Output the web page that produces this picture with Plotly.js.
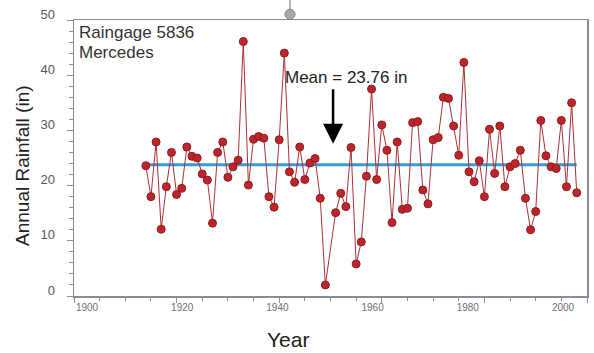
<!DOCTYPE html>
<html>
<head>
<meta charset="utf-8">
<script src="https://cdn.plot.ly/plotly-3.0.1.min.js"></script>
<style>
  html, body { margin: 0; padding: 0; background: #ffffff; }
  #chart { width: 594px; height: 353px; }
</style>
</head>
<body>
<div id="chart"></div>
<script>
// Annual rainfall at raingage 5836 (Mercedes); 1950 has no record.
const years = [
  1914, 1915, 1916, 1917, 1918, 1919, 1920, 1921, 1922, 1923,
  1924, 1925, 1926, 1927, 1928, 1929, 1930, 1931, 1932, 1933,
  1934, 1935, 1936, 1937, 1938, 1939, 1940, 1941, 1942, 1943,
  1944, 1945, 1946, 1947, 1948, 1949, 1951, 1952, 1953, 1954,
  1955, 1956, 1957, 1958, 1959, 1960, 1961, 1962, 1963, 1964,
  1965, 1966, 1967, 1968, 1969, 1970, 1971, 1972, 1973, 1974,
  1975, 1976, 1977, 1978, 1979, 1980, 1981, 1982, 1983, 1984,
  1985, 1986, 1987, 1988, 1989, 1990, 1991, 1992, 1993, 1994,
  1995, 1996, 1997, 1998
];
const rainfallIn = [
  23.6, 18.0, 27.9, 12.1, 19.8, 26.0, 18.4, 19.5, 27.0, 25.3,
  25.0, 22.1, 21.0, 13.2, 26.0, 27.9, 21.5, 23.4, 24.6, 46.1,
  20.1, 28.4, 28.9, 28.6, 18.0, 16.1, 28.3, 44.0, 22.5, 20.6,
  27.0, 21.1, 24.1, 24.9, 17.7, 2.0, 15.1, 18.6, 16.2, 26.9,
  5.8, 9.8, 21.7, 37.5, 21.1, 31.0, 26.4, 13.3, 27.9, 15.7,
  15.9, 31.4, 31.6, 19.2, 16.7, 28.3, 28.7, 36.0, 35.8, 30.8,
  25.5, 42.3, 22.5, 20.7, 24.5, 18.0, 30.2, 22.2, 30.8, 19.8,
  23.4, 24.0, 26.4, 17.7, 12.0, 15.3, 31.8, 25.4, 23.4, 23.1,
  31.8, 19.8, 35.0, 18.7
];
const meanRainfall = 23.76;
const stationName = 'Raingage 5836';
const stationPlace = 'Mercedes';
const meanLabel = 'Mean = ' + meanRainfall.toFixed(2) + ' in';
const xTitle = 'Year';
const yTitle = 'Annual Rainfall (in)';
const yTicks = [0, 10, 20, 30, 40, 50];
const xTicks = [1900, 1920, 1940, 1960, 1980, 2000];

const axisColor = '#8a8a98';
const fontFamily = 'Arial, "Liberation Sans", sans-serif';

const meanTrace = {
  x: [years[0], years[years.length - 1]],
  y: [meanRainfall, meanRainfall],
  mode: 'lines',
  line: { color: '#3a98d6', width: 3 },
  hoverinfo: 'skip',
  showlegend: false
};

const rainTrace = {
  x: years,
  y: rainfallIn,
  mode: 'lines+markers',
  line: { color: '#a83236', width: 1 },
  marker: { size: 8, color: '#bd252b', line: { color: '#8c1c20', width: 1 } },
  showlegend: false
};

// empty trace that binds the year-label axis so it gets drawn
const labelAxisTrace = {
  x: [], y: [],
  xaxis: 'x2', yaxis: 'y',
  mode: 'markers',
  hoverinfo: 'skip',
  showlegend: false
};

const layout = {
  width: 594,
  height: 353,
  margin: { l: 74, r: 7, t: 20, b: 57 },
  paper_bgcolor: '#ffffff',
  plot_bgcolor: '#ffffff',
  font: { family: fontFamily, color: '#333333' },
  xaxis: {
    range: [1900, 2000],
    tickvals: xTicks,
    showticklabels: false,
    ticks: 'outside',
    ticklen: 5,
    tickwidth: 1,
    tickcolor: axisColor,
    minor: { dtick: 5, ticks: 'outside', ticklen: 3, tickcolor: axisColor },
    showgrid: false,
    zeroline: false,
    showline: true,
    linecolor: axisColor,
    linewidth: 1.5,
    mirror: true
  },
  // year labels sit on their own slightly compressed scale
  xaxis2: {
    overlaying: 'x',
    anchor: 'y',
    side: 'bottom',
    range: [1897.27, 2005.04],
    tickvals: xTicks,
    ticktext: xTicks.map(String),
    ticks: '',
    ticklabelstandoff: 4,
    tickfont: { size: 10, color: '#707070', family: fontFamily },
    showgrid: false,
    zeroline: false,
    showline: false
  },
  yaxis: {
    range: [0, 50],
    tickvals: yTicks,
    ticks: 'outside',
    ticklen: 6,
    tickwidth: 1,
    tickcolor: axisColor,
    minor: { dtick: 2, ticks: 'outside', ticklen: 4, tickcolor: axisColor },
    tickfont: { size: 13, color: '#5a5a5a', family: fontFamily },
    ticklabelshift: -6,
    ticklabelstandoff: 9,
    showgrid: false,
    zeroline: false,
    showline: true,
    linecolor: axisColor,
    linewidth: 1.5,
    mirror: true
  },
  annotations: [
    {
      xref: 'paper', yref: 'paper', x: -0.1014, y: 0.4746,
      xanchor: 'center', yanchor: 'middle', textangle: -90,
      text: yTitle, showarrow: false,
      font: { size: 19, color: '#222222', family: fontFamily }
    },
    {
      xref: 'paper', yref: 'paper', x: 0.417, y: -0.156,
      xanchor: 'center', yanchor: 'middle',
      text: xTitle, showarrow: false,
      font: { size: 21, color: '#222222', family: fontFamily }
    },
    {
      xref: 'paper', yref: 'paper', x: 0.005, y: 0.953,
      xanchor: 'left', yanchor: 'middle',
      text: stationName, showarrow: false,
      font: { size: 17, color: '#333333', family: fontFamily }
    },
    {
      xref: 'paper', yref: 'paper', x: 0.005, y: 0.884,
      xanchor: 'left', yanchor: 'middle',
      text: stationPlace, showarrow: false,
      font: { size: 17, color: '#333333', family: fontFamily }
    },
    {
      xref: 'x', yref: 'y', x: 1940.7, y: 39.5,
      xanchor: 'left', yanchor: 'middle',
      text: meanLabel, showarrow: false,
      font: { size: 17, color: '#222222', family: fontFamily }
    },
    {
      xref: 'x', yref: 'y', x: 1950.5, y: 27.6,
      ax: 0, ay: -56,
      text: '',
      showarrow: true,
      arrowhead: 2,
      arrowsize: 1.6,
      arrowwidth: 2.5,
      arrowcolor: '#000000'
    }
  ],
  shapes: [
    {
      type: 'line', xref: 'paper', yref: 'paper',
      x0: 0.421, x1: 0.421, y0: 1.02, y1: 1.08,
      line: { color: '#9a9a9a', width: 1.5 }
    },
    {
      type: 'circle', xref: 'paper', yref: 'paper',
      x0: 0.411, x1: 0.431, y0: 1.003, y1: 1.039,
      fillcolor: '#a8a8a8', line: { color: '#909090', width: 1 }
    }
  ]
};

Plotly.newPlot('chart', [meanTrace, rainTrace, labelAxisTrace], layout, { displayModeBar: false, staticPlot: true });
</script>
</body>
</html>
